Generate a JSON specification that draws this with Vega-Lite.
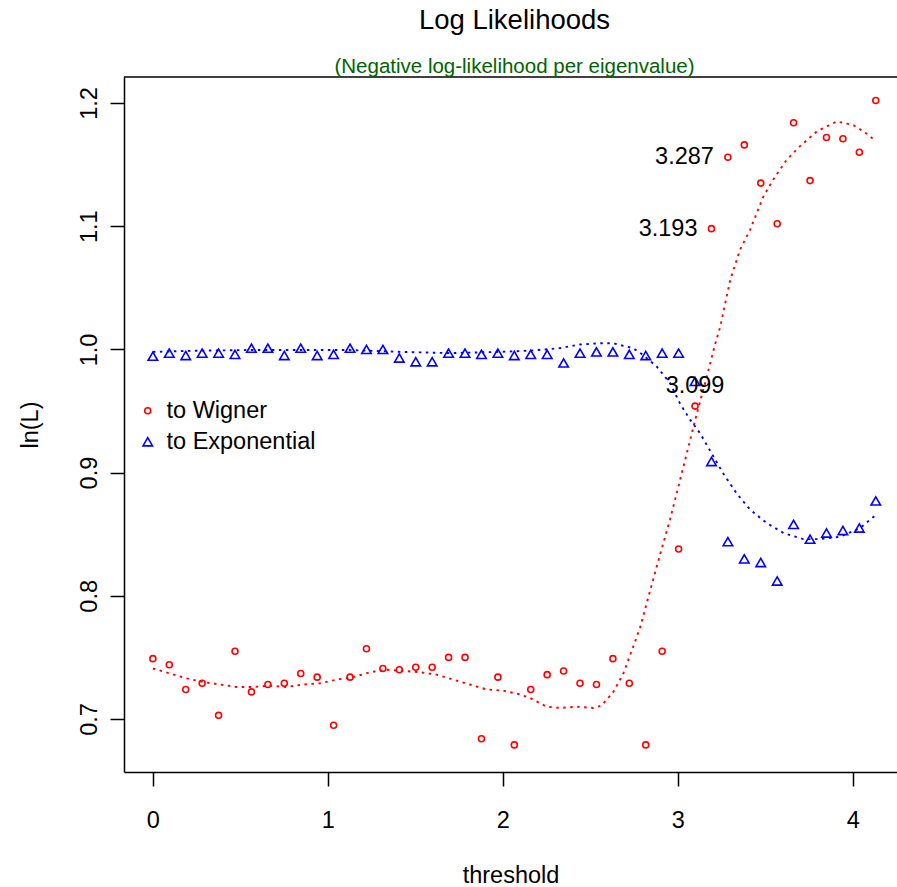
{
  "$schema": "https://vega.github.io/schema/vega-lite/v6.json",
  "autosize": {"type": "none"},
  "padding": {"left": 124, "top": 77, "right": 0, "bottom": 115},
  "width": 773,
  "height": 695,
  "background": "white",
  "config": {
    "font": "Liberation Sans",
    "view": {"stroke": null},
    "axis": {
      "grid": false,
      "domainColor": "black",
      "domainWidth": 1.5,
      "tickColor": "black",
      "tickWidth": 1.5,
      "tickSize": 14,
      "labelColor": "black",
      "labelFont": "Liberation Sans",
      "labelFontSize": 23.5,
      "titleColor": "black",
      "titleFont": "Liberation Sans",
      "titleFontSize": 23.5,
      "titleFontWeight": "normal",
      "labelOverlap": false,
      "labelFlush": false
    }
  },
  "title": {
    "text": "Log Likelihoods",
    "subtitle": "(Negative log-likelihood per eigenvalue)",
    "fontSize": 27.5,
    "fontWeight": "normal",
    "color": "black",
    "font": "Liberation Sans",
    "subtitleFont": "Liberation Sans",
    "subtitleColor": "#006400",
    "subtitleFontSize": 20.5,
    "subtitlePadding": 22,
    "anchor": "middle",
    "frame": "group",
    "dx": 4,
    "offset": -1
  },
  "datasets": {
    "points": [
      {"threshold": 0.0, "lnL": 0.749, "series": "to Wigner"},
      {"threshold": 0.0939, "lnL": 0.744, "series": "to Wigner"},
      {"threshold": 0.1878, "lnL": 0.724, "series": "to Wigner"},
      {"threshold": 0.2817, "lnL": 0.729, "series": "to Wigner"},
      {"threshold": 0.3756, "lnL": 0.703, "series": "to Wigner"},
      {"threshold": 0.4695, "lnL": 0.755, "series": "to Wigner"},
      {"threshold": 0.5634, "lnL": 0.722, "series": "to Wigner"},
      {"threshold": 0.6573, "lnL": 0.728, "series": "to Wigner"},
      {"threshold": 0.7512, "lnL": 0.729, "series": "to Wigner"},
      {"threshold": 0.8451, "lnL": 0.737, "series": "to Wigner"},
      {"threshold": 0.939, "lnL": 0.734, "series": "to Wigner"},
      {"threshold": 1.0329, "lnL": 0.695, "series": "to Wigner"},
      {"threshold": 1.1268, "lnL": 0.734, "series": "to Wigner"},
      {"threshold": 1.2207, "lnL": 0.757, "series": "to Wigner"},
      {"threshold": 1.3146, "lnL": 0.741, "series": "to Wigner"},
      {"threshold": 1.4085, "lnL": 0.740, "series": "to Wigner"},
      {"threshold": 1.5024, "lnL": 0.742, "series": "to Wigner"},
      {"threshold": 1.5963, "lnL": 0.742, "series": "to Wigner"},
      {"threshold": 1.6902, "lnL": 0.750, "series": "to Wigner"},
      {"threshold": 1.7841, "lnL": 0.750, "series": "to Wigner"},
      {"threshold": 1.878, "lnL": 0.684, "series": "to Wigner"},
      {"threshold": 1.9719, "lnL": 0.734, "series": "to Wigner"},
      {"threshold": 2.0658, "lnL": 0.679, "series": "to Wigner"},
      {"threshold": 2.1597, "lnL": 0.724, "series": "to Wigner"},
      {"threshold": 2.2536, "lnL": 0.736, "series": "to Wigner"},
      {"threshold": 2.3475, "lnL": 0.739, "series": "to Wigner"},
      {"threshold": 2.4414, "lnL": 0.729, "series": "to Wigner"},
      {"threshold": 2.5353, "lnL": 0.728, "series": "to Wigner"},
      {"threshold": 2.6292, "lnL": 0.749, "series": "to Wigner"},
      {"threshold": 2.7231, "lnL": 0.729, "series": "to Wigner"},
      {"threshold": 2.817, "lnL": 0.679, "series": "to Wigner"},
      {"threshold": 2.9109, "lnL": 0.755, "series": "to Wigner"},
      {"threshold": 3.0048, "lnL": 0.838, "series": "to Wigner"},
      {"threshold": 3.0987, "lnL": 0.954, "series": "to Wigner"},
      {"threshold": 3.1926, "lnL": 1.098, "series": "to Wigner"},
      {"threshold": 3.2865, "lnL": 1.156, "series": "to Wigner"},
      {"threshold": 3.3804, "lnL": 1.166, "series": "to Wigner"},
      {"threshold": 3.4743, "lnL": 1.135, "series": "to Wigner"},
      {"threshold": 3.5682, "lnL": 1.102, "series": "to Wigner"},
      {"threshold": 3.6621, "lnL": 1.184, "series": "to Wigner"},
      {"threshold": 3.756, "lnL": 1.137, "series": "to Wigner"},
      {"threshold": 3.8499, "lnL": 1.172, "series": "to Wigner"},
      {"threshold": 3.9438, "lnL": 1.171, "series": "to Wigner"},
      {"threshold": 4.0377, "lnL": 1.160, "series": "to Wigner"},
      {"threshold": 4.1316, "lnL": 1.202, "series": "to Wigner"},
      {"threshold": 0.0, "lnL": 0.9945, "series": "to Exponential"},
      {"threshold": 0.0939, "lnL": 0.997, "series": "to Exponential"},
      {"threshold": 0.1878, "lnL": 0.995, "series": "to Exponential"},
      {"threshold": 0.2817, "lnL": 0.997, "series": "to Exponential"},
      {"threshold": 0.3756, "lnL": 0.997, "series": "to Exponential"},
      {"threshold": 0.4695, "lnL": 0.996, "series": "to Exponential"},
      {"threshold": 0.5634, "lnL": 1.001, "series": "to Exponential"},
      {"threshold": 0.6573, "lnL": 1.001, "series": "to Exponential"},
      {"threshold": 0.7512, "lnL": 0.995, "series": "to Exponential"},
      {"threshold": 0.8451, "lnL": 1.001, "series": "to Exponential"},
      {"threshold": 0.939, "lnL": 0.995, "series": "to Exponential"},
      {"threshold": 1.0329, "lnL": 0.996, "series": "to Exponential"},
      {"threshold": 1.1268, "lnL": 1.001, "series": "to Exponential"},
      {"threshold": 1.2207, "lnL": 1.000, "series": "to Exponential"},
      {"threshold": 1.3146, "lnL": 1.000, "series": "to Exponential"},
      {"threshold": 1.4085, "lnL": 0.993, "series": "to Exponential"},
      {"threshold": 1.5024, "lnL": 0.990, "series": "to Exponential"},
      {"threshold": 1.5963, "lnL": 0.990, "series": "to Exponential"},
      {"threshold": 1.6902, "lnL": 0.997, "series": "to Exponential"},
      {"threshold": 1.7841, "lnL": 0.997, "series": "to Exponential"},
      {"threshold": 1.878, "lnL": 0.996, "series": "to Exponential"},
      {"threshold": 1.9719, "lnL": 0.997, "series": "to Exponential"},
      {"threshold": 2.0658, "lnL": 0.995, "series": "to Exponential"},
      {"threshold": 2.1597, "lnL": 0.996, "series": "to Exponential"},
      {"threshold": 2.2536, "lnL": 0.996, "series": "to Exponential"},
      {"threshold": 2.3475, "lnL": 0.989, "series": "to Exponential"},
      {"threshold": 2.4414, "lnL": 0.997, "series": "to Exponential"},
      {"threshold": 2.5353, "lnL": 0.998, "series": "to Exponential"},
      {"threshold": 2.6292, "lnL": 0.998, "series": "to Exponential"},
      {"threshold": 2.7231, "lnL": 0.996, "series": "to Exponential"},
      {"threshold": 2.817, "lnL": 0.995, "series": "to Exponential"},
      {"threshold": 2.9109, "lnL": 0.997, "series": "to Exponential"},
      {"threshold": 3.0048, "lnL": 0.997, "series": "to Exponential"},
      {"threshold": 3.0987, "lnL": 0.974, "series": "to Exponential"},
      {"threshold": 3.1926, "lnL": 0.909, "series": "to Exponential"},
      {"threshold": 3.2865, "lnL": 0.844, "series": "to Exponential"},
      {"threshold": 3.3804, "lnL": 0.830, "series": "to Exponential"},
      {"threshold": 3.4743, "lnL": 0.827, "series": "to Exponential"},
      {"threshold": 3.5682, "lnL": 0.812, "series": "to Exponential"},
      {"threshold": 3.6621, "lnL": 0.858, "series": "to Exponential"},
      {"threshold": 3.756, "lnL": 0.846, "series": "to Exponential"},
      {"threshold": 3.8499, "lnL": 0.851, "series": "to Exponential"},
      {"threshold": 3.9438, "lnL": 0.853, "series": "to Exponential"},
      {"threshold": 4.0377, "lnL": 0.855, "series": "to Exponential"},
      {"threshold": 4.1316, "lnL": 0.877, "series": "to Exponential"}
    ],
    "wigner_fit": [
      {"threshold": 0.0, "lnL": 0.741}, {"threshold": 0.097, "lnL": 0.737},
      {"threshold": 0.193, "lnL": 0.733}, {"threshold": 0.288, "lnL": 0.730},
      {"threshold": 0.383, "lnL": 0.728}, {"threshold": 0.479, "lnL": 0.726},
      {"threshold": 0.573, "lnL": 0.726}, {"threshold": 0.669, "lnL": 0.727},
      {"threshold": 0.764, "lnL": 0.726}, {"threshold": 0.859, "lnL": 0.728},
      {"threshold": 0.955, "lnL": 0.729}, {"threshold": 1.050, "lnL": 0.732},
      {"threshold": 1.145, "lnL": 0.734}, {"threshold": 1.241, "lnL": 0.738},
      {"threshold": 1.336, "lnL": 0.740}, {"threshold": 1.431, "lnL": 0.739},
      {"threshold": 1.527, "lnL": 0.738}, {"threshold": 1.622, "lnL": 0.736},
      {"threshold": 1.717, "lnL": 0.732}, {"threshold": 1.812, "lnL": 0.728},
      {"threshold": 1.908, "lnL": 0.724}, {"threshold": 2.003, "lnL": 0.723},
      {"threshold": 2.098, "lnL": 0.720}, {"threshold": 2.156, "lnL": 0.717},
      {"threshold": 2.251, "lnL": 0.710}, {"threshold": 2.327, "lnL": 0.709},
      {"threshold": 2.423, "lnL": 0.710}, {"threshold": 2.517, "lnL": 0.709},
      {"threshold": 2.565, "lnL": 0.711}, {"threshold": 2.632, "lnL": 0.722},
      {"threshold": 2.689, "lnL": 0.737}, {"threshold": 2.746, "lnL": 0.759},
      {"threshold": 2.784, "lnL": 0.774}, {"threshold": 2.880, "lnL": 0.824},
      {"threshold": 2.956, "lnL": 0.862}, {"threshold": 3.013, "lnL": 0.894},
      {"threshold": 3.070, "lnL": 0.926}, {"threshold": 3.109, "lnL": 0.948},
      {"threshold": 3.166, "lnL": 0.978}, {"threshold": 3.213, "lnL": 1.004},
      {"threshold": 3.242, "lnL": 1.018}, {"threshold": 3.299, "lnL": 1.056},
      {"threshold": 3.356, "lnL": 1.081}, {"threshold": 3.413, "lnL": 1.097},
      {"threshold": 3.489, "lnL": 1.124}, {"threshold": 3.546, "lnL": 1.138},
      {"threshold": 3.623, "lnL": 1.154}, {"threshold": 3.699, "lnL": 1.165},
      {"threshold": 3.795, "lnL": 1.177}, {"threshold": 3.909, "lnL": 1.185},
      {"threshold": 4.004, "lnL": 1.182}, {"threshold": 4.081, "lnL": 1.175},
      {"threshold": 4.132, "lnL": 1.169}
    ],
    "expo_fit": [
      {"threshold": 0.0, "lnL": 0.998}, {"threshold": 0.269, "lnL": 0.999},
      {"threshold": 0.555, "lnL": 0.9995}, {"threshold": 0.840, "lnL": 0.9995},
      {"threshold": 1.126, "lnL": 0.9995}, {"threshold": 1.412, "lnL": 0.998},
      {"threshold": 1.698, "lnL": 0.997}, {"threshold": 1.984, "lnL": 0.998},
      {"threshold": 2.156, "lnL": 0.999}, {"threshold": 2.327, "lnL": 1.001},
      {"threshold": 2.441, "lnL": 1.004}, {"threshold": 2.556, "lnL": 1.005},
      {"threshold": 2.630, "lnL": 1.005}, {"threshold": 2.744, "lnL": 1.001},
      {"threshold": 2.802, "lnL": 0.9955}, {"threshold": 2.880, "lnL": 0.986},
      {"threshold": 2.956, "lnL": 0.9725}, {"threshold": 3.013, "lnL": 0.956},
      {"threshold": 3.070, "lnL": 0.943}, {"threshold": 3.127, "lnL": 0.932},
      {"threshold": 3.184, "lnL": 0.918}, {"threshold": 3.261, "lnL": 0.899},
      {"threshold": 3.337, "lnL": 0.883}, {"threshold": 3.413, "lnL": 0.870},
      {"threshold": 3.509, "lnL": 0.859}, {"threshold": 3.604, "lnL": 0.851},
      {"threshold": 3.718, "lnL": 0.846}, {"threshold": 3.813, "lnL": 0.846},
      {"threshold": 3.928, "lnL": 0.848}, {"threshold": 4.042, "lnL": 0.855},
      {"threshold": 4.118, "lnL": 0.864}, {"threshold": 4.132, "lnL": 0.866}
    ],
    "labels_left": [
      {"threshold": 3.2865, "lnL": 1.156, "label": "3.287"},
      {"threshold": 3.1926, "lnL": 1.098, "label": "3.193"}
    ],
    "labels_center": [
      {"threshold": 3.0987, "lnL": 0.954, "label": "3.099"}
    ]
  },
  "layer": [
    {
      "data": {"name": "wigner_fit"},
      "mark": {"type": "line", "color": "#FF0000", "strokeWidth": 1.9, "strokeDash": [2.5, 4.5], "strokeCap": "butt"},
      "encoding": {
        "x": {
          "field": "threshold", "type": "quantitative", "title": "threshold",
          "scale": {"domain": [-0.165, 4.253], "nice": false, "zero": false},
          "axis": {"values": [0, 1, 2, 3, 4], "format": "d", "labelPadding": 22, "labelBaseline": "top", "titleBaseline": "alphabetic", "titleY": 110}
        },
        "y": {
          "field": "lnL", "type": "quantitative", "title": "ln(L)",
          "scale": {"domain": [0.657, 1.2211], "nice": false, "zero": false},
          "axis": {"values": [0.7, 0.8, 0.9, 1.0, 1.1, 1.2], "format": ".1f", "labelAngle": -90, "labelAlign": "center", "labelBaseline": "alphabetic", "labelPadding": 14, "titleAngle": -90, "titleBaseline": "alphabetic", "titleAlign": "center", "titleX": -87, "titleY": 347.5}
        }
      }
    },
    {
      "data": {"name": "expo_fit"},
      "mark": {"type": "line", "color": "#0000FF", "strokeWidth": 1.9, "strokeDash": [2.5, 4.5], "strokeCap": "butt"},
      "encoding": {
        "x": {"field": "threshold", "type": "quantitative", "title": "threshold", "scale": {"domain": [-0.165, 4.253], "nice": false, "zero": false}},
        "y": {"field": "lnL", "type": "quantitative", "title": "ln(L)", "scale": {"domain": [0.657, 1.2211], "nice": false, "zero": false}}
      }
    },
    {
      "data": {"values": [{}]},
      "mark": {"type": "rule", "color": "black", "strokeWidth": 1.5},
      "encoding": {
        "y": {"datum": 1.2211, "type": "quantitative", "title": "ln(L)"}
      }
    },
    {
      "data": {"name": "points"},
      "mark": {"type": "point", "filled": false, "strokeWidth": 1.6, "opacity": 1},
      "encoding": {
        "x": {"field": "threshold", "type": "quantitative", "title": "threshold", "scale": {"domain": [-0.165, 4.253], "nice": false, "zero": false}},
        "y": {"field": "lnL", "type": "quantitative", "title": "ln(L)", "scale": {"domain": [0.657, 1.2211], "nice": false, "zero": false}},
        "color": {
          "field": "series", "type": "nominal",
          "scale": {"domain": ["to Wigner", "to Exponential"], "range": ["#FF0000", "#0000FF"]},
          "legend": {"orient": "none", "legendX": 12, "legendY": 322, "title": null, "padding": 0, "labelFontSize": 23.5, "labelFont": "Liberation Sans", "labelColor": "black", "labelOffset": 7, "rowPadding": 6, "symbolStrokeWidth": 1.6}
        },
        "shape": {
          "field": "series", "type": "nominal",
          "scale": {"domain": ["to Wigner", "to Exponential"], "range": ["circle", "triangle-up"]},
          "legend": {"orient": "none", "legendX": 12, "legendY": 322, "title": null, "padding": 0, "labelFontSize": 23.5, "labelFont": "Liberation Sans", "labelColor": "black", "labelOffset": 7, "rowPadding": 6, "symbolStrokeWidth": 1.6}
        },
        "size": {
          "field": "series", "type": "nominal",
          "scale": {"domain": ["to Wigner", "to Exponential"], "range": [36, 90]},
          "legend": {"orient": "none", "legendX": 12, "legendY": 322, "title": null, "padding": 0, "labelFontSize": 23.5, "labelFont": "Liberation Sans", "labelColor": "black", "labelOffset": 7, "rowPadding": 6, "symbolStrokeWidth": 1.6}
        }
      }
    },
    {
      "data": {"name": "labels_left"},
      "mark": {"type": "text", "align": "right", "baseline": "middle", "dx": -14, "fontSize": 23.5, "font": "Liberation Sans", "color": "black"},
      "encoding": {
        "x": {"field": "threshold", "type": "quantitative", "title": "threshold"},
        "y": {"field": "lnL", "type": "quantitative", "title": "ln(L)"},
        "text": {"field": "label"}
      }
    },
    {
      "data": {"name": "labels_center"},
      "mark": {"type": "text", "align": "center", "baseline": "middle", "dy": -20, "fontSize": 23.5, "font": "Liberation Sans", "color": "black"},
      "encoding": {
        "x": {"field": "threshold", "type": "quantitative", "title": "threshold"},
        "y": {"field": "lnL", "type": "quantitative", "title": "ln(L)"},
        "text": {"field": "label"}
      }
    }
  ]
}
